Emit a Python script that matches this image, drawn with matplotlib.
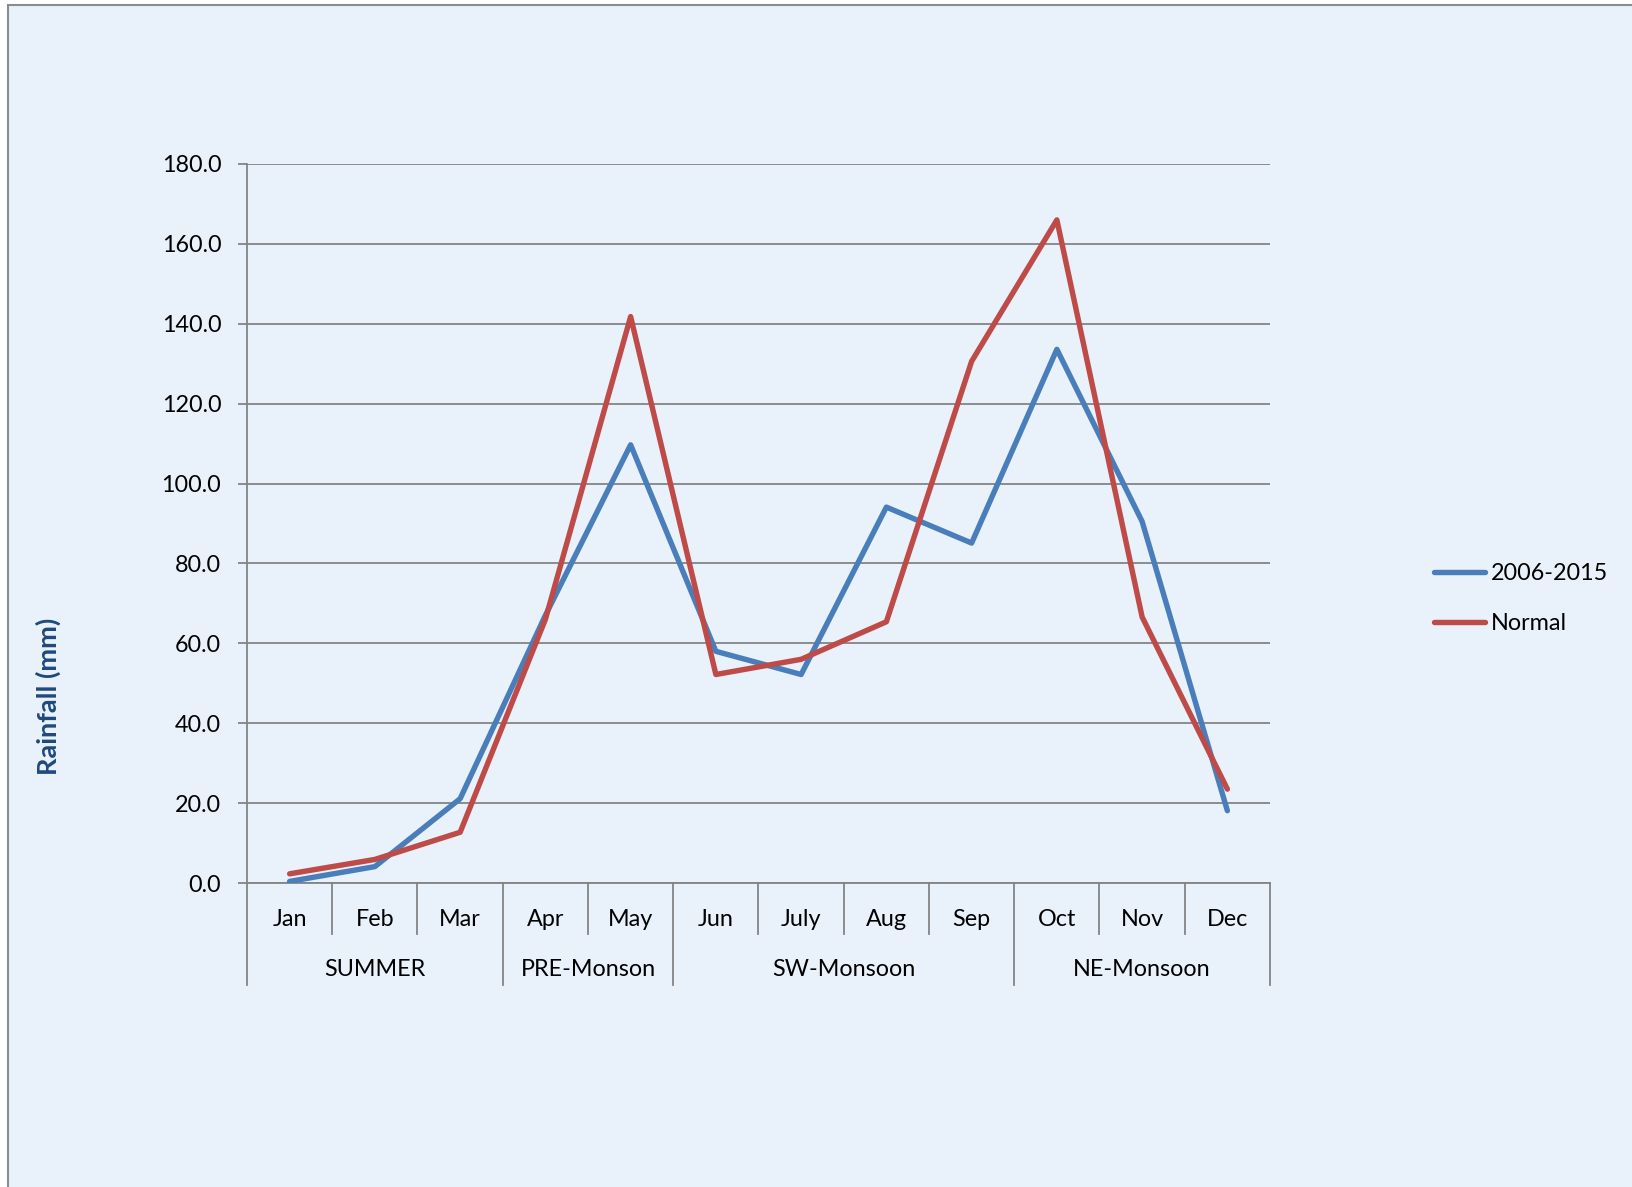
import matplotlib.pyplot as plt
from matplotlib.patches import Rectangle
from matplotlib.transforms import blended_transform_factory

plt.rcParams['font.family'] = ['Lato', 'DejaVu Sans']

months = ['Jan', 'Feb', 'Mar', 'Apr', 'May', 'Jun', 'July', 'Aug', 'Sep', 'Oct', 'Nov', 'Dec']
recent = [0.4, 4.1, 21.1, 67.0, 109.7, 58.0, 52.2, 94.1, 85.1, 133.6, 90.5, 18.1]
normal = [2.3, 5.9, 12.7, 66.0, 141.8, 52.2, 56.0, 65.4, 130.6, 166.0, 66.6, 23.5]

# season groups: (label, first month index, last month index)
seasons = [('SUMMER', 0, 2), ('PRE-Monson', 3, 4), ('SW-Monsoon', 5, 8), ('NE-Monsoon', 9, 11)]

W, H = 1633, 1187
fig = plt.figure(figsize=(W / 100, H / 100), dpi=100, facecolor='white')

# chart area background with a thin grey border
bg = Rectangle((8 / W, -0.01), 1.0, 1 - 5 / H + 0.01, transform=fig.transFigure,
               facecolor='#E9F1FA', edgecolor='#8C8C8C', linewidth=1.5, zorder=-5)
fig.patches.append(bg)

ax = fig.add_axes([247 / W, 1 - 883 / H, (1270 - 247) / W, (883 - 164) / H])
ax.set_facecolor('none')

x = list(range(len(months)))
ax.plot(x, recent, color='#4A7EBB', lw=3.9, solid_capstyle='round', label='2006-2015', zorder=3)
ax.plot(x, normal, color='#BE4B48', lw=3.9, solid_capstyle='round', label='Normal', zorder=3)

ax.set_xlim(-0.5, 11.5)
ax.set_ylim(0, 180)
ax.set_yticks(range(0, 181, 20))
ax.set_yticklabels([f'{v:.1f}' for v in range(0, 181, 20)], fontsize=16.8)
ax.yaxis.grid(True, color='#848484', lw=1.3)
ax.set_axisbelow(True)
ax.tick_params(axis='y', length=6.5, width=1.3, color='#848484', pad=12)

ax.set_xticks(x)
ax.set_xticklabels(months, fontsize=16.8)
ax.tick_params(axis='x', length=0, pad=18.5)

for side in ['top', 'right']:
    ax.spines[side].set_visible(False)
for side in ['left', 'bottom']:
    ax.spines[side].set_color('#848484')
    ax.spines[side].set_linewidth(1.3)

# category separators under the axis
trans = blended_transform_factory(ax.transData, ax.transAxes)
month_depth = -(934 - 883) / (883 - 164)
group_depth = -(985 - 883) / (883 - 164)
group_edges = {-0.5} | {s[2] + 0.5 for s in seasons}
for i in range(len(months) + 1):
    edge = i - 0.5
    depth = group_depth if edge in group_edges else month_depth
    ax.plot([edge, edge], [0, depth], transform=trans, color='#848484', lw=1.3, clip_on=False)

for label, a, b in seasons:
    ax.text((a + b) / 2, -(970 - 883) / (883 - 164), label, transform=trans,
            ha='center', va='center', fontsize=16.8)

fig.text(48 / W, 1 - 696 / H, 'Rainfall (mm)', rotation=90, ha='center', va='center',
         fontsize=19.5, fontweight='bold', color='#1F497D')

fig.legend(loc='upper left', bbox_to_anchor=(1434 / W, 1 - 563 / H), frameon=False,
           fontsize=16.8, handlelength=2.2, handletextpad=0.25, labelspacing=1.25,
           borderpad=0, borderaxespad=0)

fig.savefig('out.png', dpi=100, facecolor='white')
